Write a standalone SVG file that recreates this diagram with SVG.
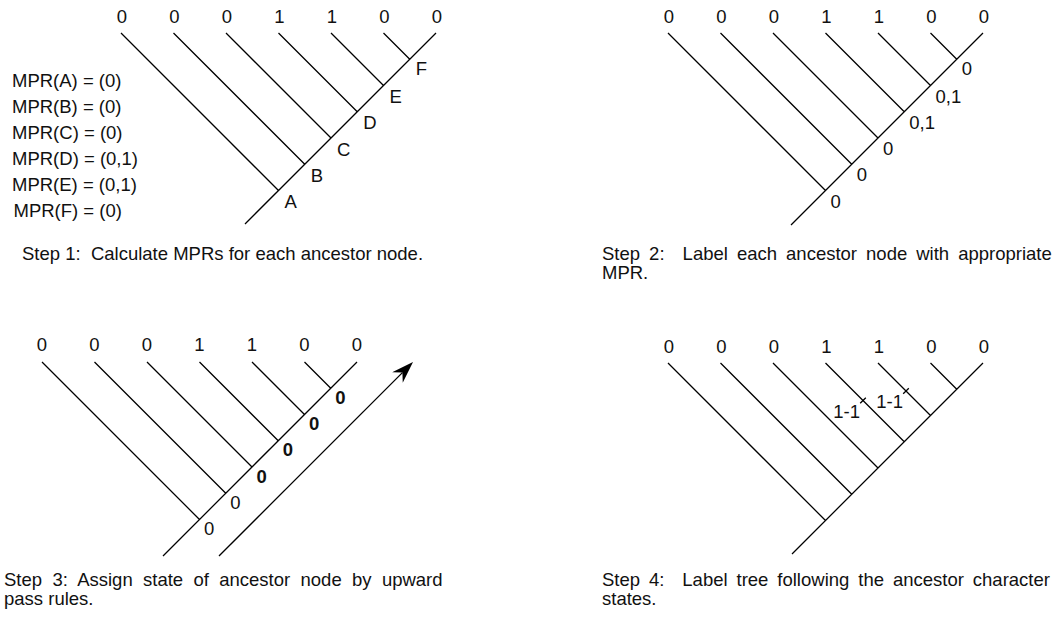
<svg xmlns="http://www.w3.org/2000/svg" width="1059" height="620" viewBox="0 0 1059 620">
<style>
  .t { font-family: "Liberation Sans", Arial, sans-serif; font-size: 18.5px; fill: #111; }
  .m { text-anchor: middle; }
  .b { font-weight: bold; }
  .ln { stroke: #000; stroke-width: 1.3; fill: none; }
</style>
<defs>
  <marker id="arr" viewBox="0 0 22 15" markerWidth="22" markerHeight="15" refX="7" refY="7.5" orient="auto" markerUnits="userSpaceOnUse">
    <path d="M0,0 L22,7.5 L0,15 L7,7.5 z" fill="#000"/>
  </marker>
</defs>

<!-- Panel 1 -->
<g id="panel1-connectors">
  <path class="ln" d="M436,33 L245,224 M121,33 L278.5,190.5 M173.5,33 L304.75,164.25 M226,33 L331,138 M278.5,33 L357.25,111.75 M331,33 L383.5,85.5 M383.5,33 L409.75,59.25"/>
</g>
<g id="panel1-tips" class="t m">
  <text x="122" y="23">0</text><text x="174.5" y="23">0</text><text x="227" y="23">0</text><text x="279.5" y="23">1</text><text x="332" y="23">1</text><text x="384.5" y="23">0</text><text x="437" y="23">0</text>
</g>
<g id="p1-node-A"><text class="t" x="284.5" y="208">A</text></g>
<g id="p1-node-B"><text class="t" x="310.75" y="181.5">B</text></g>
<g id="p1-node-C"><text class="t" x="337" y="155.5">C</text></g>
<g id="p1-node-D"><text class="t" x="363.25" y="129.25">D</text></g>
<g id="p1-node-E"><text class="t" x="389.5" y="103">E</text></g>
<g id="p1-node-F"><text class="t" x="415.75" y="75">F</text></g>
<g id="p1-mpr" class="t">
  <text x="12" y="87">MPR(A) = (0)</text>
  <text x="12" y="113">MPR(B) = (0)</text>
  <text x="12" y="139">MPR(C) = (0)</text>
  <text x="12" y="165">MPR(D) = (0,1)</text>
  <text x="12" y="191">MPR(E) = (0,1)</text>
  <text x="13.5" y="217">MPR(F) = (0)</text>
</g>
<g id="caption1"><text class="t" x="22" y="260" xml:space="preserve">Step 1:  Calculate MPRs for each ancestor node.</text></g>

<!-- Panel 2 -->
<g id="panel2-connectors">
  <path class="ln" d="M983,33 L791,225 M668,33 L825.5,190.5 M720.5,33 L851.75,164.25 M773,33 L878,138 M825.5,33 L904.25,111.75 M878,33 L930.5,85.5 M930.5,33 L956.75,59.25"/>
</g>
<g id="panel2-tips" class="t m">
  <text x="669" y="23">0</text><text x="721.5" y="23">0</text><text x="774" y="23">0</text><text x="826.5" y="23">1</text><text x="879" y="23">1</text><text x="931.5" y="23">0</text><text x="984" y="23">0</text>
</g>
<g id="p2-node-A"><text class="t" x="830.5" y="207.5">0</text></g>
<g id="p2-node-B"><text class="t" x="856.75" y="181.25">0</text></g>
<g id="p2-node-C"><text class="t" x="883" y="155">0</text></g>
<g id="p2-node-D"><text class="t" x="909.25" y="128.75">0,1</text></g>
<g id="p2-node-E"><text class="t" x="935.5" y="102.5">0,1</text></g>
<g id="p2-node-F"><text class="t" x="961.75" y="74.5">0</text></g>
<g id="caption2" class="t">
  <text x="602" y="260" xml:space="preserve" style="word-spacing:3.9px">Step 2:  Label each ancestor node with appropriate</text>
  <text x="602" y="279">MPR.</text>
</g>

<!-- Panel 3 -->
<g id="panel3-connectors">
  <path class="ln" d="M357,362 L163,556 M42,362 L199.5,519.5 M94.5,362 L225.75,493.25 M147,362 L252,467 M199.5,362 L278.25,440.75 M252,362 L304.5,414.5 M304.5,362 L330.75,388.25"/>
  <line class="ln" x1="219" y1="556" x2="402.4" y2="372.6" marker-end="url(#arr)"/>
</g>
<g id="panel3-tips" class="t m">
  <text x="42" y="351">0</text><text x="94.5" y="351">0</text><text x="147" y="351">0</text><text x="199.5" y="351">1</text><text x="252" y="351">1</text><text x="304.5" y="351">0</text><text x="357" y="351">0</text>
</g>
<g id="p3-node-A"><text class="t" x="204" y="535">0</text></g>
<g id="p3-node-B"><text class="t" x="230.25" y="508.75">0</text></g>
<g id="p3-node-C"><text class="t b" x="256.5" y="482.5">0</text></g>
<g id="p3-node-D"><text class="t b" x="282.75" y="456.25">0</text></g>
<g id="p3-node-E"><text class="t b" x="309" y="430">0</text></g>
<g id="p3-node-F"><text class="t b" x="335.25" y="403.75">0</text></g>
<g id="caption3" class="t">
  <text x="4" y="586" style="word-spacing:5.2px">Step 3: Assign state of ancestor node by upward</text>
  <text x="4" y="605">pass rules.</text>
</g>

<!-- Panel 4 -->
<g id="panel4-connectors">
  <path class="ln" d="M983,363 L792,554 M668,363 L825.5,520.5 M720.5,363 L851.75,494.25 M773,363 L878,468 M825.5,363 L904.25,441.75 M878,363 L930.5,415.5 M930.5,363 L956.75,389.25"/>
  <path class="ln" d="M860.2,403.3 L865.8,397.7 M903.2,393.8 L908.8,388.2"/>
</g>
<g id="panel4-tips" class="t m">
  <text x="669" y="353">0</text><text x="721.5" y="353">0</text><text x="774" y="353">0</text><text x="826.5" y="353">1</text><text x="879" y="353">1</text><text x="931.5" y="353">0</text><text x="984" y="353">0</text>
</g>
<g id="p4-change-1"><text class="t" x="860" y="418" text-anchor="end">1-1</text></g>
<g id="p4-change-2"><text class="t" x="903" y="408" text-anchor="end">1-1</text></g>
<g id="caption4" class="t">
  <text x="602" y="586" xml:space="preserve" style="word-spacing:3.8px">Step 4:  Label tree following the ancestor character</text>
  <text x="602" y="605">states.</text>
</g>
</svg>
